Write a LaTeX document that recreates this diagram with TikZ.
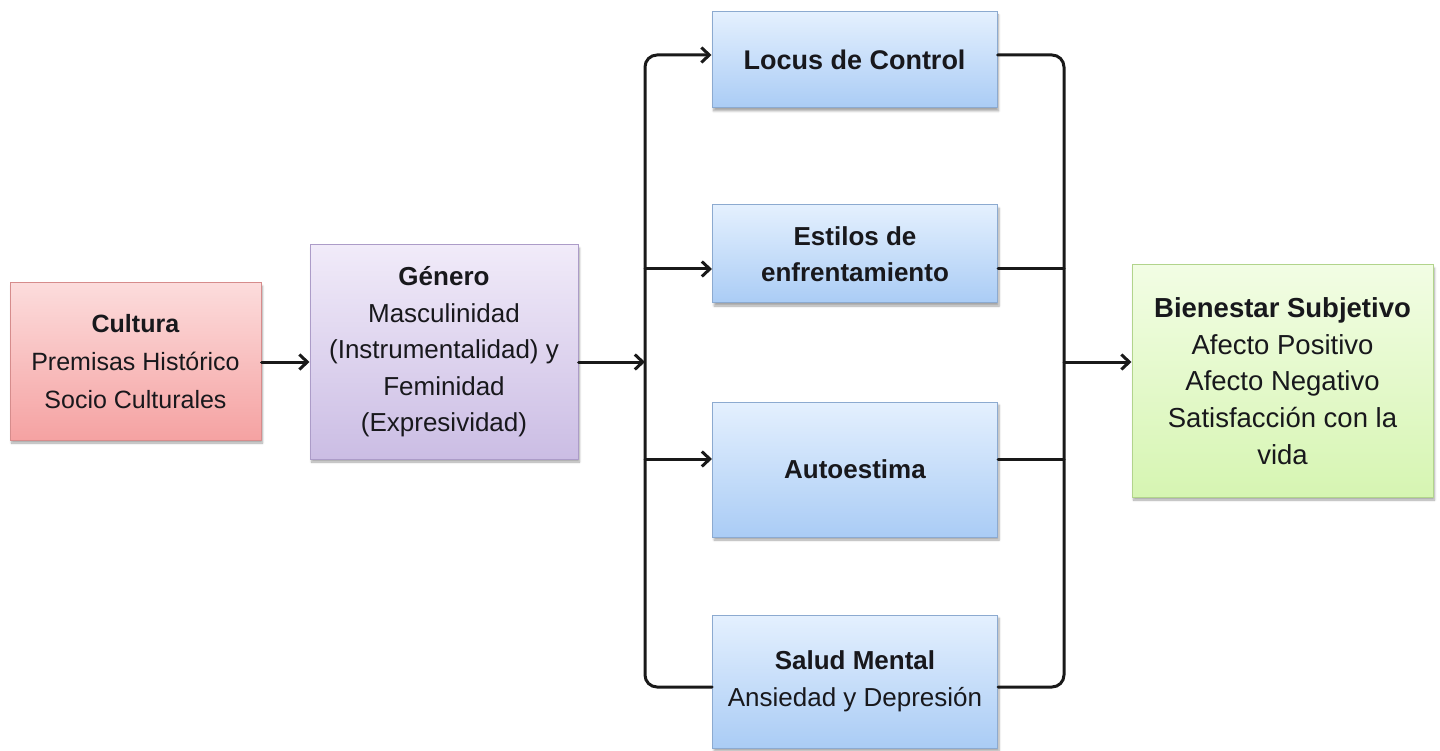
\documentclass[tikz,border=0pt]{standalone}
\usepackage{fontspec}
\setmainfont{Liberation Sans}
\usetikzlibrary{arrows.meta,shadows.blur}

\definecolor{inkc}{RGB}{24,24,28}
\definecolor{redtop}{RGB}{252,220,220}
\definecolor{redbot}{RGB}{245,162,162}
\definecolor{redline}{RGB}{214,140,140}
\definecolor{vtop}{RGB}{241,235,249}
\definecolor{vbot}{RGB}{203,189,228}
\definecolor{vline}{RGB}{172,156,200}
\definecolor{btop}{RGB}{228,240,254}
\definecolor{bbot}{RGB}{170,204,245}
\definecolor{bline}{RGB}{140,170,208}
\definecolor{gtop}{RGB}{242,253,228}
\definecolor{gbot}{RGB}{214,245,178}
\definecolor{gline}{RGB}{178,212,140}

\tikzset{
  box/.style={draw, line width=1pt, inner sep=0pt, align=center, text=inkc,
    font=\fontsize{26}{36.5}\selectfont,
    blur shadow={shadow xshift=1.5pt, shadow yshift=-3pt, shadow blur steps=6, shadow opacity=35}},
  redbox/.style={box, top color=redtop, bottom color=redbot, draw=redline},
  violetbox/.style={box, top color=vtop, bottom color=vbot, draw=vline},
  bluebox/.style={box, top color=btop, bottom color=bbot, draw=bline},
  greenbox/.style={box, top color=gtop, bottom color=gbot, draw=gline},
  wire/.style={line width=3pt, draw=black!90, line cap=round, line join=round},
  arr/.style={wire, -{Straight Barb[length=8pt, width=15pt, line width=3pt]}}
}

\begin{document}
\begin{tikzpicture}[x=1pt, y=-1pt]
\useasboundingbox (0,0) rectangle (1440,751);

% boxes
\node[redbox, minimum width=251pt, minimum height=157pt,
      font=\fontsize{25}{38}\selectfont] (cultura) at (135.5,361.5)
  {\textbf{Cultura}\\Premisas Histórico\\Socio Culturales};
\node[violetbox, minimum width=268pt, minimum height=214pt] (genero) at (444,352)
  {\textbf{Género}\\Masculinidad\\(Instrumentalidad) y\\Feminidad\\(Expresividad)};
\node[bluebox, minimum width=285pt, minimum height=96pt,
      font=\fontsize{27}{36.5}\selectfont] (locus) at (854.5,60)
  {\textbf{Locus de Control}};
\node[bluebox, minimum width=285pt, minimum height=98pt] (estilos) at (855,254)
  {\textbf{Estilos de}\\\textbf{enfrentamiento}};
\node[bluebox, minimum width=285pt, minimum height=135pt] (autoestima) at (855,469.5)
  {\textbf{Autoestima}};
\node[bluebox, minimum width=285pt, minimum height=133pt] (salud) at (855,681.5)
  {\textbf{Salud Mental}\\Ansiedad y Depresión};
\node[greenbox, minimum width=301pt, minimum height=232pt,
      font=\fontsize{27.5}{36.7}\selectfont] (bienestar) at (1282.5,381)
  {\textbf{Bienestar Subjetivo}\\Afecto Positivo\\Afecto Negativo\\Satisfacción con la\\vida};

% bus junctions
\coordinate (lt) at (645,55);
\coordinate (lb) at (645,687);
\coordinate (rt) at (1064,55);
\coordinate (rb) at (1064,687);
\coordinate (lmid) at (645,362);
\coordinate (rmid) at (1064,362);
\coordinate (le) at (645,269);
\coordinate (la) at (645,459);
\coordinate (re) at (1064,269);
\coordinate (ra) at (1064,459);

% left bus, from Salud Mental up to Locus de Control
\draw[arr, rounded corners=12pt] (salud.west |- lb) -- (lb) -- (lt) -- (locus.west |- lt);
% right bus
\draw[wire, rounded corners=12pt] (locus.east |- rt) -- (rt) -- (rb) -- (salud.east |- rb);

% connectors
\draw[arr] (cultura.east |- lmid) -- (genero.west |- lmid);
\draw[arr] (genero.east |- lmid) -- (lmid);
\draw[arr] (le) -- (estilos.west |- le);
\draw[arr] (la) -- (autoestima.west |- la);
\draw[wire] (estilos.east |- re) -- (re);
\draw[wire] (autoestima.east |- ra) -- (ra);
\draw[arr] (rmid) -- (bienestar.west |- rmid);
\end{tikzpicture}
\end{document}
